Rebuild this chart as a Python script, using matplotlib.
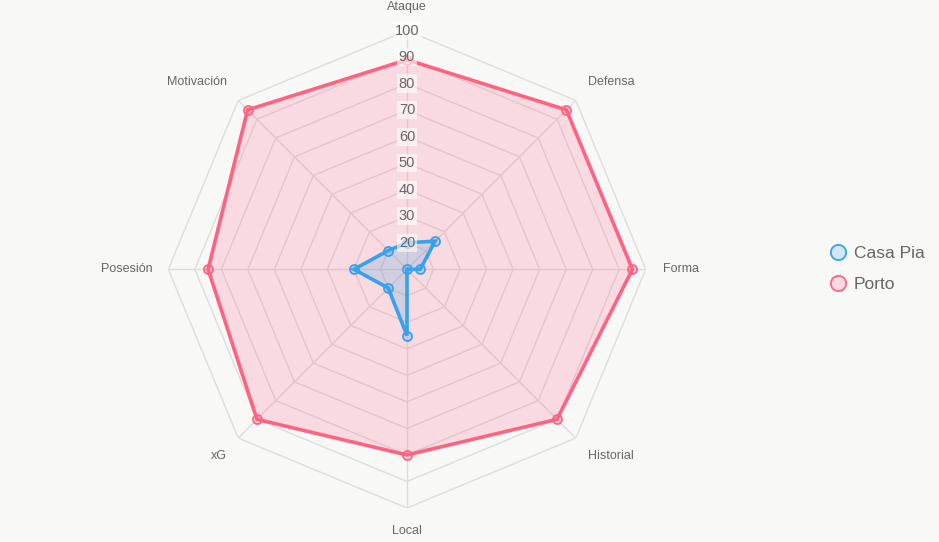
import numpy as np
import matplotlib
matplotlib.use("Agg")
import matplotlib.pyplot as plt
from matplotlib.lines import Line2D

plt.rcParams['font.family'] = ['Liberation Sans', 'DejaVu Sans']

categories = ["Ataque", "Defensa", "Forma", "Historial", "Local", "xG", "Posesión", "Motivación"]
casa_pia = [20, 25, 15, 10, 35, 20, 30, 20]
porto = [89, 95, 95, 90, 80, 90, 85, 95]
tick_values = [20, 30, 40, 50, 60, 70, 80, 90, 100]
series_names = ["Casa Pia", "Porto"]

R_MIN, R_MAX = 10, 100
BG = "#f8f8f7"
GRID = "#dddddd"
BLUE = "#36a2eb"
RED = "#ff6384"
BLUE_FILL = (54/255, 162/255, 235/255, 0.2)
RED_FILL = (255/255, 99/255, 132/255, 0.2)

W, H = 939, 542
fig = plt.figure(figsize=(W/100, H/100), dpi=100, facecolor=BG)
cx, cy, rad = 407, 269.3, 238.7
ax = fig.add_axes([(cx-rad)/W, (H-cy-rad)/H, 2*rad/W, 2*rad/H], projection='polar')
ax.set_facecolor("none")
ax.set_theta_offset(np.pi/2)
ax.set_theta_direction(-1)
ax.set_ylim(R_MIN, R_MAX)
ax.grid(False)
ax.spines['polar'].set_visible(False)
ax.set_xticks([])
ax.set_yticks([])

n = len(categories)
theta = np.linspace(0, 2*np.pi, n, endpoint=False)
theta_c = np.append(theta, theta[0])

# polygon grid
for lv in [R_MIN + 10*i for i in range(1, 10)]:
    ax.plot(theta_c, [lv]*(n+1), color=GRID, lw=1, zorder=1)
for t in theta:
    ax.plot([t, t], [R_MIN, R_MAX], color=GRID, lw=1, zorder=1)

def draw(vals, line, fill, z):
    v = np.append(vals, vals[0])
    ax.fill(theta_c, v, color=fill, zorder=z, lw=0)
    ax.plot(theta_c, v, color=line, lw=2.6, zorder=z+1, solid_joinstyle='miter')
    ax.plot(theta, vals, 'o', ms=6.5, mfc=fill, mec=line, mew=1.3, zorder=z+2, linestyle='none')

draw(porto, RED, RED_FILL, 2)
draw(casa_pia, BLUE, BLUE_FILL, 5)

# tick labels
for tv in tick_values:
    ax.text(0, tv, str(tv), ha='center', va='center', fontsize=10.5, color='#666666', zorder=10,
            bbox=dict(boxstyle='square,pad=0.15', fc=(1, 1, 1, 0.6), ec='none'))

# point labels
offsets = [(0, 24, 'center', 'center'), (12, 19, 'left', 'center'), (17, 0, 'left', 'center'),
           (12, -18, 'left', 'center'), (0, -23, 'center', 'center'), (-11, -18, 'right', 'center'),
           (-16, 0, 'right', 'center'), (-11, 19, 'right', 'center')]
for t, lab, (dx, dy, ha, va) in zip(theta, categories, offsets):
    ax.annotate(lab, xy=(t, R_MAX), xytext=(dx, dy), textcoords='offset pixels',
                ha=ha, va=va, fontsize=9, color='#666666', annotation_clip=False)

handles = [Line2D([], [], marker='o', ls='none', ms=11, mfc=BLUE_FILL, mec=BLUE, mew=1.3),
           Line2D([], [], marker='o', ls='none', ms=11, mfc=RED_FILL, mec=RED, mew=1.3)]
fig.legend(handles, series_names, loc='center left', bbox_to_anchor=(812/W, (H-269)/H),
           frameon=False, fontsize=12.5, labelcolor='#666666', handletextpad=0.3,
           labelspacing=0.95, handlelength=1.2)

fig.savefig("out.png", dpi=100, facecolor=BG)
